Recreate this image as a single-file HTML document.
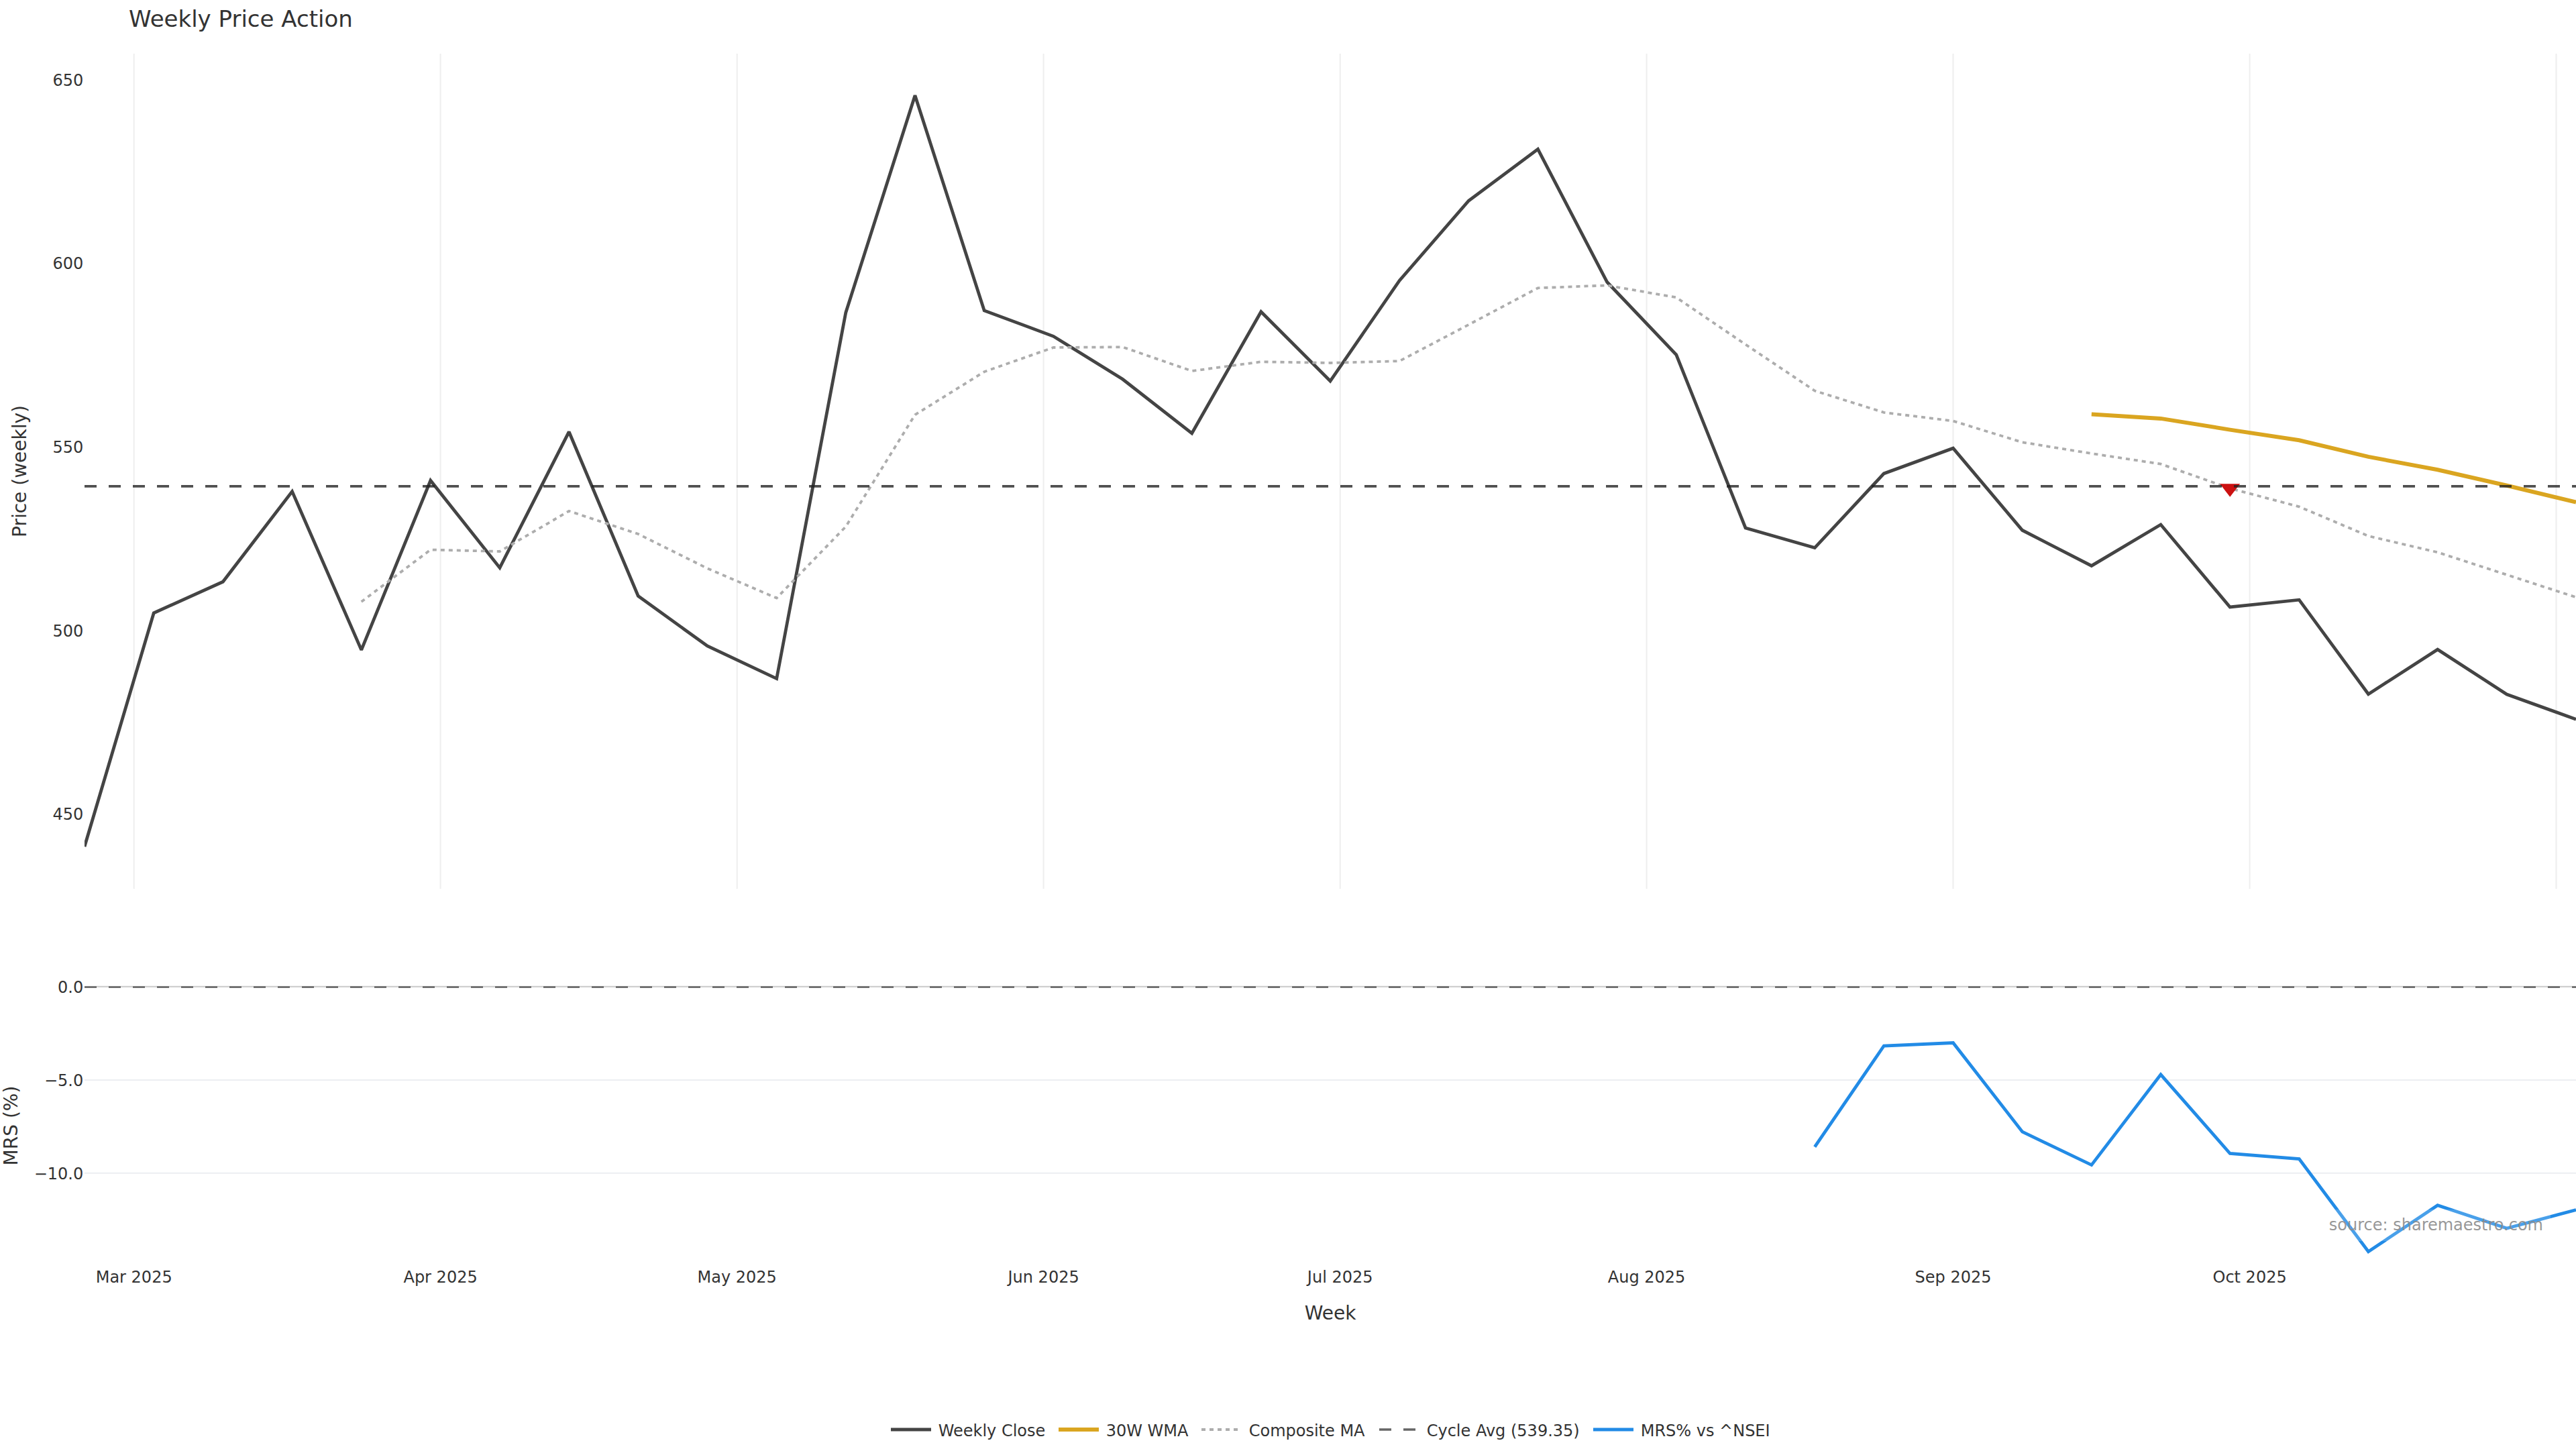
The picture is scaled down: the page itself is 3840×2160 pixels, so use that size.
<!DOCTYPE html>
<html lang="en"><head><meta charset="utf-8"><title>Weekly Price Action</title>
<style>html,body{margin:0;padding:0;background:#fff;}body{width:3840px;height:2160px;overflow:hidden;}svg{display:block;}text{font-family:"DejaVu Sans","Liberation Sans",sans-serif;fill:#333333;}.t24{font-size:24px;}.t28{font-size:28px;}.t36{font-size:34px;}</style></head><body>
<svg width="3840" height="2160" viewBox="0 0 3840 2160">
<rect width="3840" height="2160" fill="#ffffff"/>
<defs><clipPath id="ct"><rect x="126" y="80" width="3714" height="1245"/></clipPath><clipPath id="cb"><rect x="126" y="1411" width="3714" height="469"/></clipPath></defs>
<g stroke="#eeeeee" stroke-width="2"><line x1="199.7" y1="80" x2="199.7" y2="1325"/><line x1="656.6" y1="80" x2="656.6" y2="1325"/><line x1="1098.7" y1="80" x2="1098.7" y2="1325"/><line x1="1555.6" y1="80" x2="1555.6" y2="1325"/><line x1="1997.7" y1="80" x2="1997.7" y2="1325"/><line x1="2454.6" y1="80" x2="2454.6" y2="1325"/><line x1="2911.5" y1="80" x2="2911.5" y2="1325"/><line x1="3353.6" y1="80" x2="3353.6" y2="1325"/><line x1="3810.5" y1="80" x2="3810.5" y2="1325"/></g>
<g stroke="#eceef2" stroke-width="2"><line x1="126" y1="1610" x2="3840" y2="1610"/><line x1="126" y1="1748.7" x2="3840" y2="1748.7"/></g>
<line x1="126" y1="1470.8" x2="3840" y2="1470.8" stroke="#c9c9c9" stroke-width="2"/>
<g clip-path="url(#ct)" fill="none" stroke-linejoin="miter" stroke-miterlimit="2">
<path d="M126.0,1262.0L229.2,913.8L332.3,867.2L435.5,732.6L538.7,968.9L641.8,716.3L745.0,846.4L848.2,643.7L951.3,888.5L1054.5,963.0L1157.7,1011.6L1260.8,465.9L1364.0,142.3L1467.2,462.9L1570.3,501.3L1673.5,565.3L1776.7,645.9L1879.8,464.7L1983.0,568.0L2086.2,418.2L2189.3,299.3L2292.5,222.4L2395.7,420.5L2498.8,528.8L2602.0,787.0L2705.2,816.6L2808.3,705.9L2911.5,668.2L3014.7,790.5L3117.8,843.4L3221.0,782.0L3324.2,905.0L3427.3,894.2L3530.5,1034.7L3633.7,968.2L3736.8,1035.0L3840.0,1072.2" stroke="#444444" stroke-width="4.8"/>
<path d="M3117.8,617.5L3221.0,623.9L3324.2,640.6L3427.3,656.3L3530.5,680.9L3633.7,700.3L3736.8,723.7L3840.0,748.7" stroke="#daa520" stroke-width="6"/>
<path d="M538.7,897.0L641.8,819.5L745.0,822.0L848.2,761.8L951.3,796.0L1054.5,847.3L1157.7,891.5L1260.8,785.0L1364.0,618.3L1467.2,554.2L1570.3,518.0L1673.5,517.3L1776.7,553.0L1879.8,539.3L1983.0,541.0L2086.2,538.2L2189.3,484.0L2292.5,429.3L2395.7,425.4L2498.8,443.4L2602.0,513.5L2705.2,582.5L2808.3,614.8L2911.5,627.6L3014.7,659.3L3117.8,676.0L3221.0,691.7L3324.2,728.0L3427.3,755.3L3530.5,799.0L3633.7,823.3L3736.8,856.8L3840.0,890.3" stroke="#adadad" stroke-width="3.8" stroke-dasharray="6,6"/>
<path d="M3309.2,721.3H3339.2L3324.2,740.8Z" fill="#cc1111" stroke="none"/>
<path d="M126,724.95H3840" stroke="#222222" stroke-opacity="0.8" stroke-width="3.7" stroke-dasharray="18,18"/>
</g>
<g fill="none" stroke-linejoin="miter" stroke-miterlimit="2">
<path d="M126,1471.4H3840" stroke="#444444" stroke-width="2" stroke-dasharray="18,18"/>
<path d="M2705.2,1709.6L2808.3,1559.0L2911.5,1554.5L3014.7,1687.2L3117.8,1736.6L3221.0,1601.9L3324.2,1719.5L3427.3,1727.5L3530.5,1865.8L3633.7,1796.7L3736.8,1831.0L3840.0,1803.5" stroke="#228be6" stroke-width="4.8"/>
</g>
<text class="t36" x="192" y="39.7">Weekly Price Action</text>
<text class="t24" x="124.2" y="127.5" text-anchor="end">650</text>
<text class="t24" x="124.2" y="401.3" text-anchor="end">600</text>
<text class="t24" x="124.2" y="675.0" text-anchor="end">550</text>
<text class="t24" x="124.2" y="948.8" text-anchor="end">500</text>
<text class="t24" x="124.2" y="1222.2" text-anchor="end">450</text>
<text class="t24" x="124.2" y="1480.2" text-anchor="end">0.0</text>
<text class="t24" x="124.2" y="1619.0" text-anchor="end">−5.0</text>
<text class="t24" x="124.2" y="1757.7" text-anchor="end">−10.0</text>
<text class="t24" x="199.7" y="1912" text-anchor="middle">Mar 2025</text>
<text class="t24" x="656.6" y="1912" text-anchor="middle">Apr 2025</text>
<text class="t24" x="1098.7" y="1912" text-anchor="middle">May 2025</text>
<text class="t24" x="1555.6" y="1912" text-anchor="middle">Jun 2025</text>
<text class="t24" x="1997.7" y="1912" text-anchor="middle">Jul 2025</text>
<text class="t24" x="2454.6" y="1912" text-anchor="middle">Aug 2025</text>
<text class="t24" x="2911.5" y="1912" text-anchor="middle">Sep 2025</text>
<text class="t24" x="3353.6" y="1912" text-anchor="middle">Oct 2025</text>
<text class="t28" x="1983" y="1967" text-anchor="middle">Week</text>
<text class="t28" transform="translate(39,702.5) rotate(-90)" text-anchor="middle">Price (weekly)</text>
<text class="t28" transform="translate(25.6,1678) rotate(-90)" text-anchor="middle">MRS (%)</text>
<rect x="3468" y="1803" width="334" height="47" fill="#ffffff" fill-opacity="0.18"/>
<text x="3791" y="1834" text-anchor="end" style="font-size:24px;fill:#8a8a8a;fill-opacity:0.9">source: sharemaestro.com</text>
<path d="M1328,2131H1388" stroke="#444444" stroke-width="4.8" fill="none"/>
<text class="t24" x="1398.7" y="2140.6">Weekly Close</text>
<path d="M1578,2131H1638" stroke="#daa520" stroke-width="6" fill="none"/>
<text class="t24" x="1648.7" y="2140.6">30W WMA</text>
<path d="M1791,2131H1851" stroke="#adadad" stroke-width="3.8" fill="none" stroke-dasharray="6,6"/>
<text class="t24" x="1861.7" y="2140.6">Composite MA</text>
<path d="M2056,2131H2116" stroke="#666666" stroke-width="3.4" fill="none" stroke-dasharray="18,18"/>
<text class="t24" x="2126.7" y="2140.6">Cycle Avg (539.35)</text>
<path d="M2375,2131H2435" stroke="#228be6" stroke-width="4.8" fill="none"/>
<text class="t24" x="2445.7" y="2140.6">MRS% vs ^NSEI</text>
</svg></body></html>
